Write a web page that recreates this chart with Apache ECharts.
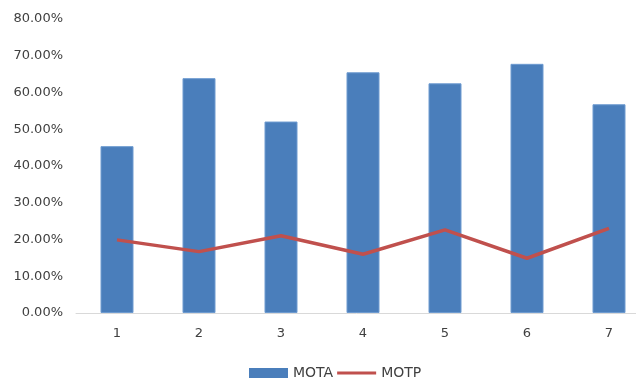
<!DOCTYPE html>
<html>
<head>
<meta charset="utf-8">
<script src="https://cdn.jsdelivr.net/npm/echarts@6/dist/echarts.min.js"></script>
<style>
html,body{margin:0;padding:0;background:#fff;}
#chart{width:636px;height:381px;}
</style>
</head>
<body>
<div id="chart"></div>
<script>
const categories = ['1','2','3','4','5','6','7'];
const motaValues = [45.4, 63.9, 52.1, 65.5, 62.5, 67.8, 56.8];
const motpValues = [19.9, 16.7, 21.0, 16.0, 22.6, 14.9, 23.0];
const seriesNames = ['MOTA', 'MOTP'];

const chart = echarts.init(document.getElementById('chart'), null, {renderer: 'canvas'});
const textColor = '#404040';
const font = 'DejaVu Sans';
chart.setOption({
  animation: false,
  backgroundColor: '#ffffff',
  grid: {left: 76, top: 19, width: 574, height: 294, containLabel: false, outerBoundsMode: 'none'},
  legend: {
    data: [
      {name: seriesNames[0], icon: 'rect', itemStyle: {borderWidth: 0}},
      {name: seriesNames[1], icon: 'path://M0,0L0,0M0,3.6L39,3.6L39,6.4L0,6.4ZM39,10L39,10', itemStyle: {borderWidth: 0, color: '#C0504D'}}
    ],
    left: 244,
    top: 361,
    itemWidth: 39,
    itemHeight: 10,
    itemGap: 4,
    symbolKeepAspect: false,
    textStyle: {color: textColor, fontFamily: font, fontSize: 14, padding: [0,0,0,0]}
  },
  xAxis: {
    type: 'category',
    data: categories,
    axisLine: {show: true, lineStyle: {color: '#D9D9D9', width: 1}},
    axisTick: {show: false},
    axisLabel: {color: textColor, fontFamily: font, fontSize: 13, margin: 14}
  },
  yAxis: {
    type: 'value',
    min: 0,
    max: 80,
    interval: 10,
    splitLine: {show: false},
    axisLine: {show: false},
    axisTick: {show: false},
    axisLabel: {color: textColor, fontFamily: font, fontSize: 13, margin: 13,
      formatter: v => v.toFixed(2) + '%'}
  },
  series: [
    {
      name: seriesNames[0],
      type: 'bar',
      data: motaValues,
      barWidth: 33,
      itemStyle: {color: '#4A7EBB', borderColor: '#6E9BD0', borderWidth: 1}
    },
    {
      name: seriesNames[1],
      type: 'line',
      data: motpValues,
      symbol: 'none',
      lineStyle: {color: '#C0504D', width: 3.5},
      itemStyle: {color: '#C0504D'}
    }
  ]
});
</script>
</body>
</html>
